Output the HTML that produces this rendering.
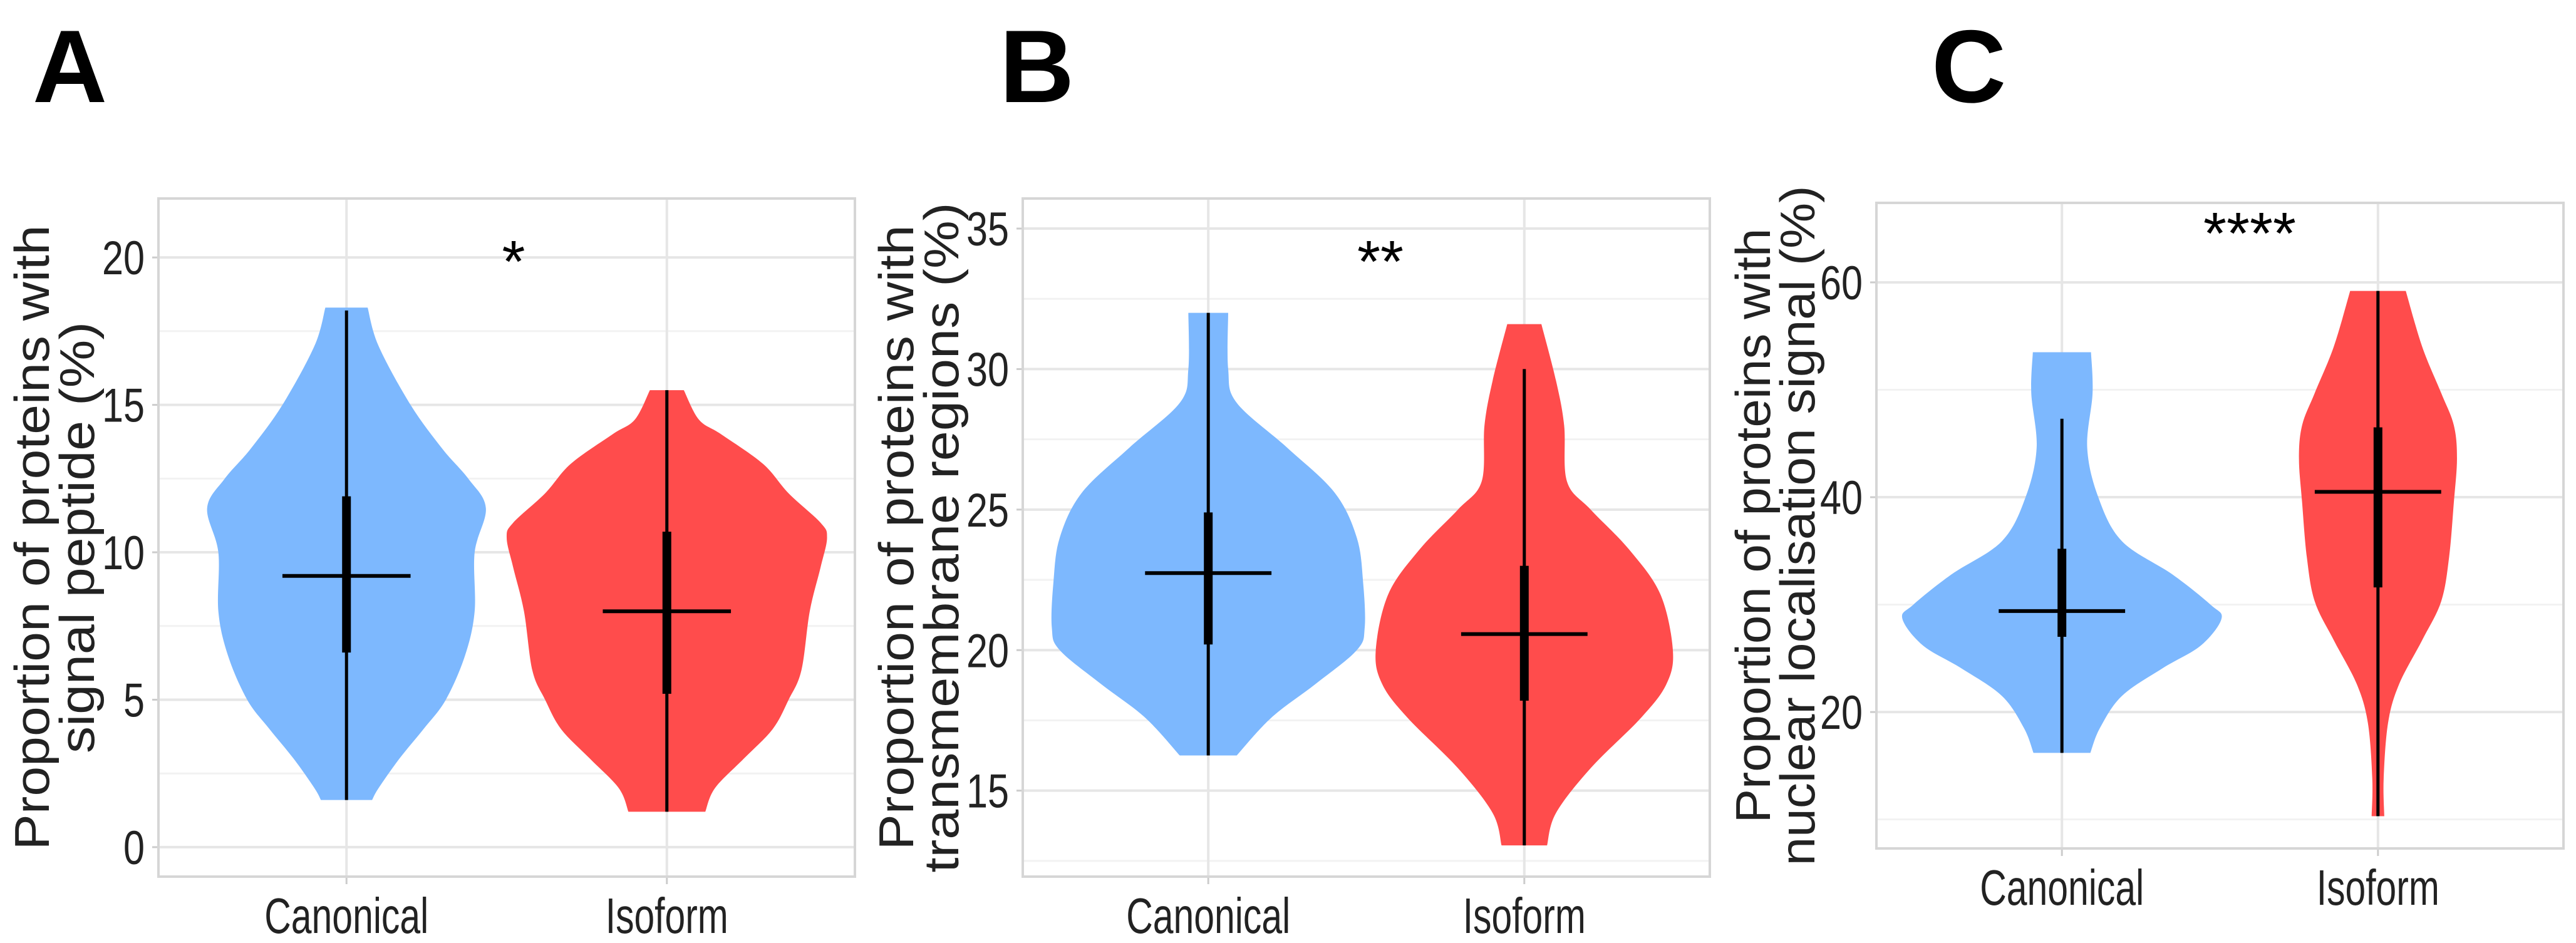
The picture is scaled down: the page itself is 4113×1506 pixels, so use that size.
<!DOCTYPE html>
<html><head><meta charset="utf-8"><style>html,body{margin:0;padding:0;background:#fff}svg{display:block}</style></head>
<body>
<svg id="fig" width="4113" height="1506" viewBox="0 0 4113 1506" xmlns="http://www.w3.org/2000/svg" font-family="Liberation Sans, sans-serif"></svg>
<script>
const categories = ["Canonical","Isoform"];
// Panel A
const aTicks = [0,5,10,15,20];
const aCanonDensity = [[18.3,.066],[17,.10],[15,.20],[13.5,.30],[12.5,.38],[11.5,.435],[10,.40],[8,.40],[6.5,.37],[5,.31],[4,.24],[3,.165],[2,.10],[1.6,.08]];
const aIsoDensity = [[15.5,.053],[14.5,.10],[14,.17],[13,.30],[12,.38],[11,.48],[10.5,.50],[9.5,.48],[8,.446],[6,.42],[5,.38],[4,.33],[3,.24],[2,.15],[1.2,.12]];
const aCanonStats = [1.6,6.6,9.2,11.9,18.2];
const aIsoStats = [1.2,5.2,8.0,10.7,15.5];
// Panel B
const bTicks = [15,20,25,30,35];
const bCanonDensity = [[32,.063],[30,.063],[28.8,.09],[27.2,.25],[25.6,.40],[24,.47],[22.4,.49],[20.8,.495],[20,.47],[18.8,.34],[17.6,.2],[16.25,.09]];
const bIsoDensity = [[31.6,.054],[29.6,.1],[28,.126],[26,.135],[25,.21],[23.6,.33],[22,.43],[20,.47],[18.8,.45],[17.6,.37],[15.8,.21],[14.2,.1],[13.05,.072]];
const bCanonStats = [16.25,20.2,22.74,24.9,32];
const bIsoStats = [13.05,18.2,20.57,23.0,30.0];
// Panel C
const cTicks = [20,40,60];
const cCanonDensity = [[53.5,.092],[49.7,.097],[44.6,.08],[40,.115],[35.9,.19],[32.8,.35],[30,.47],[28.7,.505],[26.2,.44],[24.1,.32],[21.5,.19],[18.5,.12],[16.2,.09]];
const cIsoDensity = [[59.2,.088],[54,.14],[49.7,.2],[46.7,.24],[43.6,.25],[39.5,.24],[34.4,.225],[30.3,.2],[26.7,.14],[22.6,.067],[19,.032],[13.8,.018],[10.3,.02]];
const cCanonStats = [16.2,27,29.4,35.2,47.3];
const cIsoStats = [10.3,31.6,40.5,46.5,59.2];

const panels = [
 {id:"a",letter:"A",lx:52,box:[253,317,1365,1400],dom:[-1.0,22.0],ticks:aTicks,dens:[aCanonDensity,aIsoDensity],stats:[aCanonStats,aIsoStats],sig:"*",sigX:820,sigY:450,yl:["Proportion of proteins with","signal peptide (%)"],ylw:[998,689],ylx:[50,122]},
 {id:"b",letter:"B",lx:1596,box:[1633,317,2730,1400],dom:[11.94,36.07],ticks:bTicks,dens:[bCanonDensity,bIsoDensity],stats:[bCanonStats,bIsoStats],sig:"**",sigX:2204,sigY:450,yl:["Proportion of proteins with","transmembrane regions (%)"],ylw:[998,1070],ylx:[1430,1502]},
 {id:"c",letter:"C",lx:3084,box:[2996,324,4093,1355],dom:[7.3,67.4],ticks:cTicks,dens:[cCanonDensity,cIsoDensity],stats:[cCanonStats,cIsoStats],sig:"****",sigX:3592,sigY:405,yl:["Proportion of proteins with","nuclear localisation signal (%)"],ylw:[950,1086],ylx:[2798,2869]}
];
const colors=["#7DB8FE","#FF4C4C"];
const svg=document.getElementById("fig");
const NS="http://www.w3.org/2000/svg";
function mk(tag,attrs,parent){const e=document.createElementNS(NS,tag);for(const k in attrs)e.setAttribute(k,attrs[k]);(parent||svg).appendChild(e);return e;}
function smooth(pts){let d="M"+pts[0][0]+","+pts[0][1];for(let i=0;i<pts.length-1;i++){const p0=pts[Math.max(0,i-1)],p1=pts[i],p2=pts[i+1],p3=pts[Math.min(pts.length-1,i+2)];const c1=[p1[0]+(p2[0]-p0[0])/6,p1[1]+(p2[1]-p0[1])/6],c2=[p2[0]-(p3[0]-p1[0])/6,p2[1]-(p3[1]-p1[1])/6];d+=" C"+c1[0]+","+c1[1]+" "+c2[0]+","+c2[1]+" "+p2[0]+","+p2[1];}return d;}
panels.forEach(p=>{
 const [x0,y0,x1,y1]=p.box;
 const g=mk("g",{});
 
 
 const yS=v=>y1-(v-p.dom[0])/(p.dom[1]-p.dom[0])*(y1-y0);
 const xC=i=>x0+(x1-x0)*(0.27+0.46*i);
 const band=(xC(1)-xC(0));
 const L=mk("text",{x:p.lx,y:163,"font-size":165,"font-weight":"bold",fill:"#000"},g);L.textContent=p.letter;
 
 
 const step=p.ticks[1]-p.ticks[0];
 for(let v=p.ticks[0]-step/2;v<=p.dom[1];v+=step){if(v<p.dom[0])continue;const l=mk("line",{x1:x0,x2:x1,y1:yS(v),y2:yS(v),stroke:"#f2f2f2","stroke-width":3},g);}
 p.ticks.forEach(t=>{const y=yS(t);
  const l=mk("line",{x1:x0,x2:x1,y1:y,y2:y,stroke:"#e6e6e6","stroke-width":4},g);
  
  
  mk("line",{x1:x0-10,x2:x0,y1:y,y2:y,stroke:"#cccccc","stroke-width":3},g);
  const tx=mk("text",{x:x0-22,y:y+27,"font-size":76,"text-anchor":"end",fill:"#222",textLength:34*String(t).length,lengthAdjust:"spacingAndGlyphs"},g);tx.textContent=t;
  
  
 });
 categories.forEach((c,i)=>{const x=xC(i);
  const l=mk("line",{x1:x,x2:x,y1:y0,y2:y1,stroke:"#e6e6e6","stroke-width":4},g);
  
  mk("line",{x1:x,x2:x,y1:y1,y2:y1+12,stroke:"#cccccc","stroke-width":3},g);
  const tx=mk("text",{x:x,y:y1+90,"font-size":80,"text-anchor":"middle",fill:"#222",textLength:c==="Canonical"?262:196,lengthAdjust:"spacingAndGlyphs"},g);tx.textContent=c;
  
  
 });
 p.dens.forEach((d,i)=>{const x=xC(i);
  const right=d.map(q=>[x+q[1]*band,yS(q[0])]);
  const left=d.slice().reverse().map(q=>[x-q[1]*band,yS(q[0])]);
  const dd=smooth(right)+" L"+left[0][0]+","+left[0][1]+smooth(left).replace(/^M[^ ]+/,"")+" Z";
  const v=mk("path",{d:dd,fill:colors[i]},g);
  
  
  const s=p.stats[i];
  const w=mk("line",{x1:x,x2:x,y1:yS(s[0]),y2:yS(s[4]),stroke:"#000","stroke-width":5},g);
  
  const b=mk("line",{x1:x,x2:x,y1:yS(s[1]),y2:yS(s[3]),stroke:"#000","stroke-width":14},g);
  
  const m=mk("line",{x1:x-0.2*band,x2:x+0.2*band,y1:yS(s[2]),y2:yS(s[2]),stroke:"#000","stroke-width":6},g);
  
 });
 const fr=mk("rect",{x:x0,y:y0,width:x1-x0,height:y1-y0,fill:"none",stroke:"#d6d6d6","stroke-width":4},g);
 
 const sg=mk("text",{x:p.sigX,y:p.sigY,"font-size":95,"text-anchor":"middle",fill:"#000"},g);sg.textContent=p.sig;
 
 const cy=(y0+y1)/2;
 p.yl.forEach((t,k)=>{const tx=mk("text",{x:p.ylx[k],y:cy,"font-size":78,"text-anchor":"middle",fill:"#222",textLength:p.ylw[k],lengthAdjust:"spacingAndGlyphs",transform:`rotate(-90 ${p.ylx[k]} ${cy}) translate(0 28)`},g);tx.textContent=t;
  });
});
</script>
</body></html>
